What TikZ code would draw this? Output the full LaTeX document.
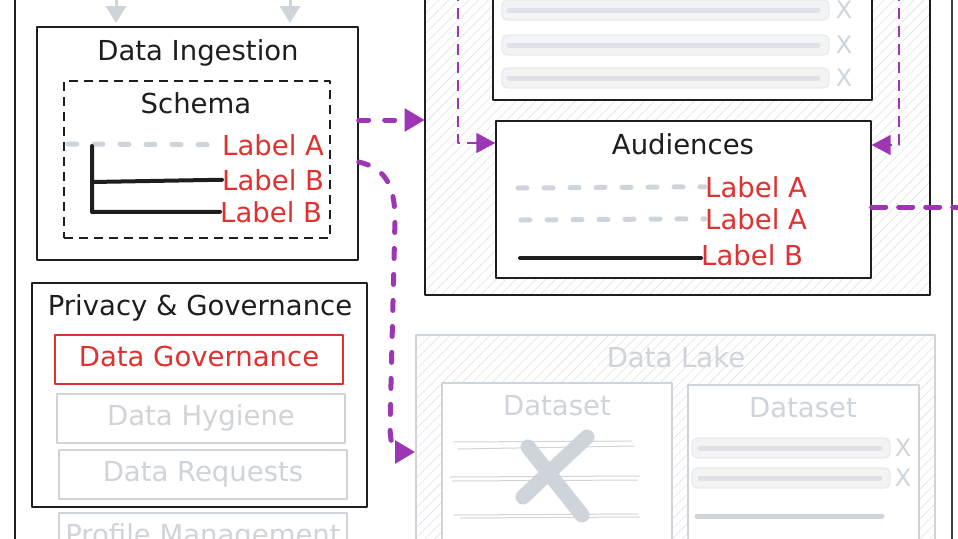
\documentclass[tikz,border=0pt]{standalone}
\usepackage{fontspec}
\setmainfont{DejaVu Sans}
\usetikzlibrary{arrows.meta,patterns.meta}

\definecolor{ink}{HTML}{1E1E1E}
\definecolor{inkred}{HTML}{E03131}
\definecolor{fade}{HTML}{CED4DA}
\definecolor{fadebar}{HTML}{DEE2E6}
\definecolor{pillfill}{HTML}{F1F3F5}
\definecolor{hatchline}{HTML}{E0E3E6}
\definecolor{grape}{HTML}{9C36B5}

\begin{document}
\begin{tikzpicture}[x=1pt, y=-1pt, line join=round,
    every node/.style={font=\fontsize{27.5}{32}\selectfont, inner sep=0pt},
    frame/.style={draw=ink, line width=1.4pt, fill=white},
    ghost/.style={draw=fade, line width=1.8pt, fill=white, text=fade, text height=20pt, text depth=6pt},
    hatched/.style={pattern={Lines[angle=45,distance=7pt,line width=0.6pt]}, pattern color=hatchline},
    title/.style={text=ink, anchor=base},
    tag/.style={text=inkred, anchor=base west},
    faded/.style={text=fade, anchor=base},
    cross/.style={text=fade, font=\fontsize{24}{24}\selectfont},
    flow/.style={draw=grape, line width=5pt, line cap=round, dash pattern=on 10pt off 16pt, -{Triangle[length=20pt,width=22pt]}},
    hop/.style={draw=grape, line width=1.6pt, dash pattern=on 11pt off 7pt, -{Triangle[length=19pt,width=20pt]}},
    feed/.style={draw=fade, line width=3pt, -{Triangle[length=17pt,width=20pt]}},
    dashbar/.style={draw=fade, line width=5pt, line cap=round, dash pattern=on 9pt off 17pt},
    solidbar/.style={draw=ink, line width=4pt, line cap=round},
    pillbox/.style={draw=fadebar!70, fill=pillfill, line width=1.2pt, rounded corners=5pt},
    pillbar/.style={draw=fadebar, line width=5pt, line cap=round}]

  \useasboundingbox (0,0) rectangle (958,538);
  \fill[white] (0,0) rectangle (958,538);
  \clip (0,0) rectangle (958,538);

  % 1. outer frames
  \draw[ink, line width=1.4pt] (15,-5) -- (15,545);
  \draw[ink!85, line width=1.4pt] (952,-5) -- (952,545);

  % 2. containers
  \node[draw=ink, line width=1.4pt, hatched, minimum width=505pt, minimum height=320pt] (audcont) at (677.5,135) {};
  \node[draw=fade, line width=1.6pt, hatched, minimum width=519pt, minimum height=235pt] (lake) at (675.5,452.5) {};

  % 3. left column
  \node[frame, minimum width=321pt, minimum height=233pt] (ingest) at (197.5,143.5) {};
  \node[title] (ingestT) at (198,60) {Data Ingestion};
  \node[draw=ink, line width=1.3pt, dash pattern=on 9pt off 6pt, minimum width=266pt, minimum height=157pt] (schema) at (197,159.5) {};
  \node[title] (schemaT) at (196,113) {Schema};
  \node[tag] (schA) at (222,155) {Label A};
  \node[tag] (schB) at (222,190) {Label B};
  \node[tag] (schC) at (220,222) {Label B};
  \draw[dashbar] (68,144) -- (schA.west);
  \draw[solidbar] (92,146) -- (92,212) -- (schC.west);
  \draw[solidbar] (92,182) -- (schB.west);

  \node[frame, minimum width=335pt, minimum height=224pt] (privacy) at (199.5,395) {};
  \node[title] (privacyT) at (200,315) {Privacy \& Governance};
  \node[draw=inkred, line width=2pt, fill=white, text=inkred, text height=20pt, text depth=6pt, minimum width=288pt, minimum height=49pt] (govern) at (199,359.5) {Data Governance};
  \node[ghost, minimum width=288pt, minimum height=49pt] (hygiene) at (201,418.5) {Data Hygiene};
  \node[ghost, minimum width=288pt, minimum height=49pt] (requests) at (203,474.5) {Data Requests};
  \node[ghost, minimum width=288pt, minimum height=49pt] (profile) at (203,537.5) {Profile Management};

  % 4. audiences side
  \node[frame, minimum width=379pt, minimum height=120pt] (listbox) at (682.5,40) {};
  \foreach \y in {10,45,78} {
    \draw[pillbox] (502,\y-10) rectangle (829,\y+10);
    \draw[pillbar] (509,\y) -- (818,\y);
    \node[cross] (lx\y) at (844,\y) {X};
  }
  \node[frame, minimum width=375pt, minimum height=157pt] (aud) at (683.5,199.5) {};
  \node[title] (audT) at (683,154) {Audiences};
  \node[tag] (audA) at (705,197) {Label A};
  \node[tag] (audB) at (705,229) {Label A};
  \node[tag] (audC) at (701,265) {Label B};
  \draw[dashbar] (518,188) -- (audA.west);
  \draw[dashbar] (521,220) -- (audB.west);
  \draw[solidbar] (520,258) -- (audC.west |- 0,258);

  % 5. data lake
  \node[faded] (lakeT) at (676,367) {Data Lake};
  \node[draw=fade, line width=1.4pt, fill=white, minimum width=230pt, minimum height=187pt] (dsleft) at (557,476.5) {};
  \node[faded] (dsleftT) at (557,415) {Dataset};
  \draw[fade, line width=1pt] (453,442) -- (632,441) (458,449) -- (635,446)
    (450,477) -- (640,476) (452,481) -- (638,480) (453,515) -- (638,514) (460,518) -- (640,517);
  \draw[fade, line width=15pt, line cap=round] (528,447) -- (582,515) (587,437) -- (523,497);

  \node[draw=fade, line width=1.4pt, fill=white, minimum width=231pt, minimum height=185pt] (dsright) at (803.5,477.5) {};
  \node[faded] (dsrightT) at (803,417) {Dataset};
  \foreach \y in {448,478} {
    \draw[pillbox] (692,\y-10) rectangle (890,\y+10);
    \draw[pillbar] (700,\y) -- (880,\y);
    \node[cross] (dx\y) at (903,\y) {X};
  }
  \draw[pillbar, draw=fade] (697,516) -- (882,516);

  % 6. connectors
  \draw[feed] (116,-10) -- (116,23);
  \draw[feed] (290,-10) -- (290,23);
  \draw[flow] (ingest.east |- 0,120) -- (audcont.west |- 0,120);
  \draw[flow] (ingest.east |- 0,162) .. controls (385,168) and (395,185) .. (395,220)
    -- (390,425) .. controls (390,448) and (396,452) .. (lake.west |- 0,452);
  \coordinate (hopL) at (458,-10);
  \coordinate (hopR) at (899,-10);
  \coordinate (outR) at (968,207);
  \draw[hop] (hopL) -- (458,143) -- (aud.west |- 0,143);
  \draw[hop] (hopR) -- (899,145) -- (aud.east |- 0,145);
  \draw[flow, -, dash pattern=on 14pt off 13pt] (aud.east |- 0,207) -- (outR);
\end{tikzpicture}
\end{document}
